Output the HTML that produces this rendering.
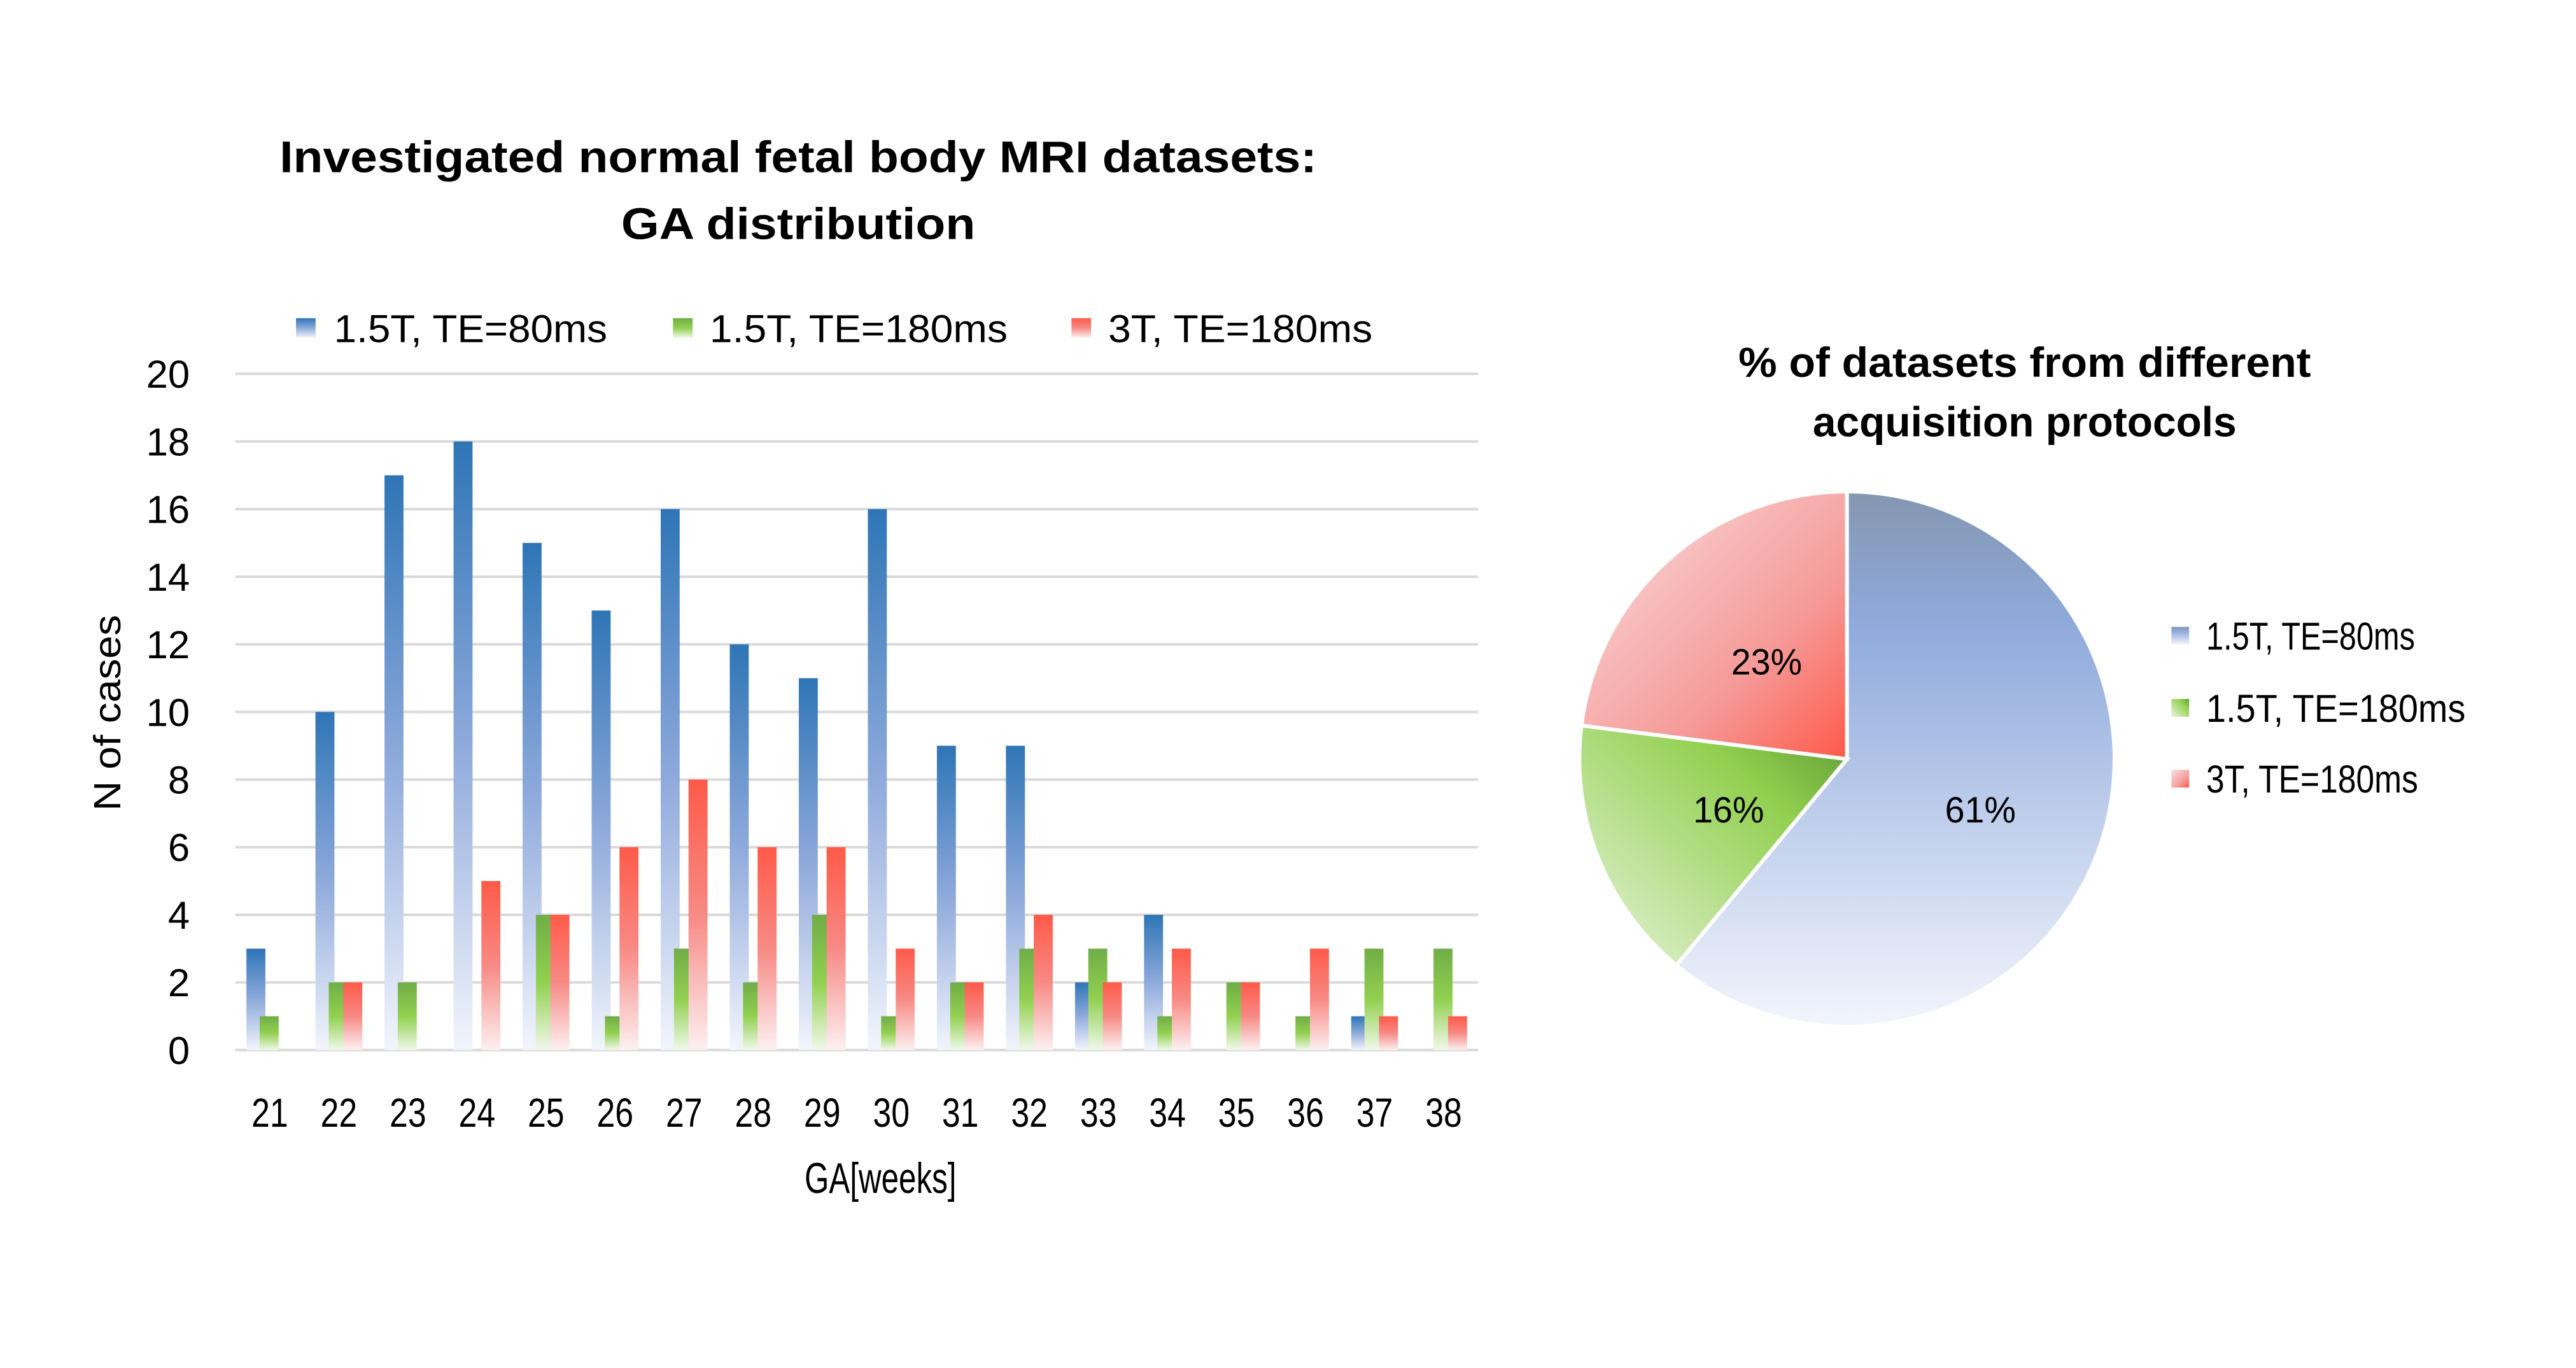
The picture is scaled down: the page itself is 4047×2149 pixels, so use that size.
<!DOCTYPE html>
<html><head><meta charset="utf-8"><style>
html,body{margin:0;padding:0;background:#fff;}
svg{display:block;font-family:"Liberation Sans",sans-serif;}
</style></head><body>
<svg id="chart" width="4047" height="2149" viewBox="0 0 4047 2149">
<defs>
<linearGradient id="gBlue" x1="0" y1="0" x2="0" y2="1"><stop offset="0" stop-color="#2e75b6"/><stop offset="0.5" stop-color="#8faadc"/><stop offset="1" stop-color="#f2f5fc"/></linearGradient>
<linearGradient id="gGreen" x1="0" y1="0" x2="0" y2="1"><stop offset="0" stop-color="#70ad47"/><stop offset="0.5" stop-color="#92d050"/><stop offset="1" stop-color="#f0f8ea"/></linearGradient>
<linearGradient id="gRed" x1="0" y1="0" x2="0" y2="1"><stop offset="0" stop-color="#ff5a48"/><stop offset="0.5" stop-color="#f78a85"/><stop offset="1" stop-color="#fcf0f0"/></linearGradient>
<linearGradient id="pBlue" x1="0" y1="0" x2="0" y2="1"><stop offset="0" stop-color="#8497b0"/><stop offset="0.25" stop-color="#8faadc"/><stop offset="1" stop-color="#f2f5fc"/></linearGradient>
<linearGradient id="pGreen" x1="1" y1="0" x2="0" y2="1"><stop offset="0" stop-color="#5e9a34"/><stop offset="0.3" stop-color="#92d050"/><stop offset="1" stop-color="#e8f4de"/></linearGradient>
<linearGradient id="pRed" x1="1" y1="1" x2="0" y2="0"><stop offset="0" stop-color="#ff5a48"/><stop offset="0.35" stop-color="#f59a98"/><stop offset="1" stop-color="#f8e0e0"/></linearGradient>
</defs>
<g transform="scale(0.9937)">
<g font-weight="bold" font-size="70" text-anchor="middle" fill="#000">
<text x="1262" y="272" textLength="1640" lengthAdjust="spacingAndGlyphs">Investigated normal fetal body MRI datasets:</text>
<text x="1262" y="378" textLength="560" lengthAdjust="spacingAndGlyphs">GA distribution</text>
</g>
<g id="barLegend" font-size="62"></g>
<g id="grid"></g>
<g id="bars"></g>
<g id="xlabels" font-size="64" text-anchor="middle"></g>
<text x="1392" y="1886" font-size="68" text-anchor="middle" textLength="240" lengthAdjust="spacingAndGlyphs">GA[weeks]</text>
<text x="0" y="0" font-size="60" text-anchor="middle" transform="translate(190,1127) rotate(-90)" textLength="310" lengthAdjust="spacingAndGlyphs">N of cases</text>
<g font-weight="bold" font-size="66" text-anchor="middle">
<text x="3201" y="596" textLength="905" lengthAdjust="spacingAndGlyphs">% of datasets from different</text>
<text x="3201" y="690" textLength="670" lengthAdjust="spacingAndGlyphs">acquisition protocols</text>
</g>
<g id="pie"></g>
<g id="pieLegend" font-size="62"></g>
</g>
</svg>
<script>
const categories=["21","22","23","24","25","26","27","28","29","30","31","32","33","34","35","36","37","38"];
const blueValues=[3,10,17,18,15,13,16,12,11,16,9,9,2,4,0,0,1,0];
const greenValues=[1,2,2,0,4,1,3,2,4,1,2,3,3,1,2,1,3,3];
const redValues=[0,2,0,5,4,6,8,6,6,3,2,4,2,3,2,3,1,1];
const yTicks=[0,2,4,6,8,10,12,14,16,18,20];
const seriesNames=["1.5T, TE=80ms","1.5T, TE=180ms","3T, TE=180ms"];
const pieValues=[61,16,23];
const pieLabels=["61%","16%","23%"];

const NS="http://www.w3.org/2000/svg";
function mk(tag,attrs,parent){const e=document.createElementNS(NS,tag);for(const k in attrs)e.setAttribute(k,attrs[k]);parent.appendChild(e);return e;}
const X0=372,X1=2337,Y0=1660,Y1=591,YMAX=20;
const bw=(X1-X0)/categories.length;
function yS(v){return Y0-(v/YMAX)*(Y0-Y1);}
function xS(i){return X0+bw*(i+0.5);}
const grid=document.getElementById('grid');
yTicks.forEach(t=>{
  const l=mk('line',{x1:X0,x2:X1,y1:yS(t),y2:yS(t),stroke:'#d9d9d9','stroke-width':4},grid);
  
  
  const tx=mk('text',{x:300,y:yS(t)+22,'font-size':62,'text-anchor':'end'},grid);
  tx.textContent=t;
  
  
});
const bars=document.getElementById('bars');
const series=[blueValues,greenValues,redValues];
const fills=['url(#gBlue)','url(#gGreen)','url(#gRed)'];
const offs=[-37,-16,7];
const names=['bar-1-5t-80ms','bar-1-5t-180ms','bar-3t-180ms'];
categories.forEach((c,i)=>{
  series.forEach((s,j)=>{
    const v=s[i]; if(v<=0)return;
    const r=mk('rect',{x:xS(i)+offs[j],y:yS(v),width:30,height:Y0-yS(v),fill:fills[j]},bars);
    
    
  });
  const t=mk('text',{x:xS(i),y:1781,textLength:58,lengthAdjust:'spacingAndGlyphs'},document.getElementById('xlabels'));
  t.textContent=c;
  
  
});
const leg=document.getElementById('barLegend');
const legX=[[468,528],[1064,1122],[1694,1752]];
const legW=[432,471,418];
const solid=['url(#gBlue)','url(#gGreen)','url(#gRed)'];
seriesNames.forEach((n,j)=>{
  const r=mk('rect',{x:legX[j][0],y:503,width:31,height:31,fill:solid[j]},leg);
  
  
  const t=mk('text',{x:legX[j][1],y:541,textLength:legW[j],lengthAdjust:'spacingAndGlyphs'},leg);
  t.textContent=n;
  
  
});
const cx=2920,cy=1200,R=423;
const pie=document.getElementById('pie');
const pf=['url(#pBlue)','url(#pGreen)','url(#pRed)'];
const pn=['pie-slice-1-5t-80ms','pie-slice-1-5t-180ms','pie-slice-3t-180ms'];
const total=pieValues.reduce((a,b)=>a+b,0);
let a0=0;
const labelPos=[[3131,1300],[2733,1300],[2793,1066]];
pieValues.forEach((v,j)=>{
  const a1=a0+v/total*2*Math.PI;
  const p=(a)=>[cx+R*Math.sin(a),cy-R*Math.cos(a)];
  const [sx,sy]=p(a0),[ex,ey]=p(a1);
  const large=(a1-a0)>Math.PI?1:0;
  const path=mk('path',{d:`M${cx},${cy} L${sx},${sy} A${R},${R} 0 ${large} 1 ${ex},${ey} Z`,fill:pf[j],stroke:'#fff','stroke-width':6},pie);
  
  
  a0=a1;
});
pieLabels.forEach((l,j)=>{
  const t=mk('text',{x:labelPos[j][0],y:labelPos[j][1],'font-size':58,'text-anchor':'middle',textLength:112,lengthAdjust:'spacingAndGlyphs'},pie);
  t.textContent=l;
  
  
});
const pl=document.getElementById('pieLegend');
const plY=[1005,1119,1231];
const plW=[330,410,335];
seriesNames.forEach((n,j)=>{
  const r=mk('rect',{x:3433,y:plY[j]-14,width:28,height:28,fill:['url(#pBlue)','url(#pGreen)','url(#pRed)'][j]},pl);
  
  
  const t=mk('text',{x:3488,y:plY[j]+22,textLength:plW[j],lengthAdjust:'spacingAndGlyphs'},pl);
  t.textContent=n;
  
  
});
</script>
</body></html>
